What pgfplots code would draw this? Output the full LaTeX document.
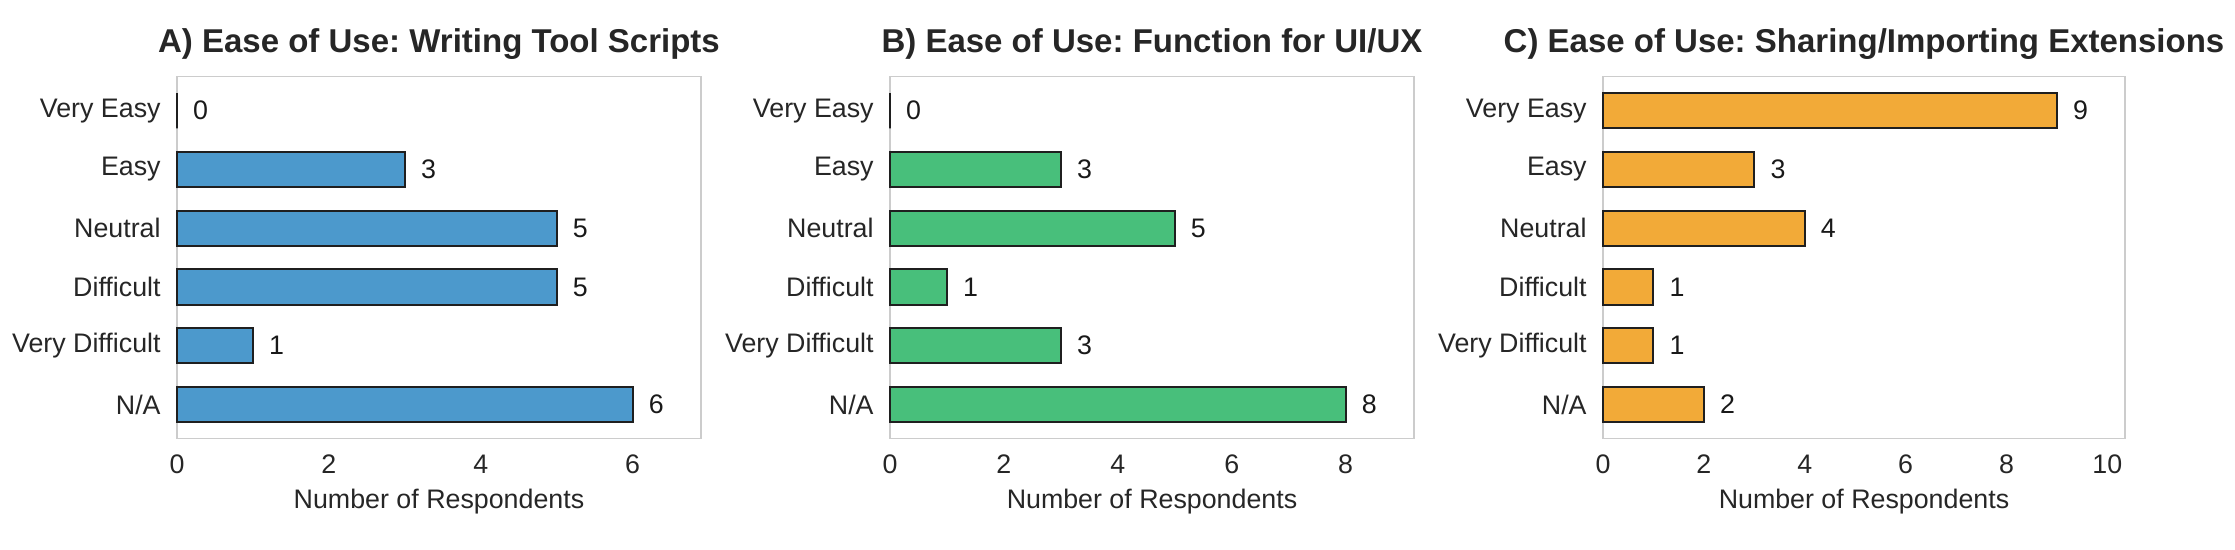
\documentclass[border=0pt]{standalone}
\usepackage{fontspec}
\setmainfont{Liberation Sans}
\usepackage{pgfplots}
\pgfplotsset{compat=1.18}
\frenchspacing
\definecolor{cA}{RGB}{76,153,204}
\definecolor{cB}{RGB}{72,191,123}
\definecolor{cC}{RGB}{242,170,56}
\definecolor{cFrame}{RGB}{204,204,204}
\definecolor{cText}{RGB}{38,38,38}
\newcommand{\lbl}{\fontsize{13.4}{15}\selectfont}

\pgfplotsset{
  easeaxis/.style={
    scale only axis, width=262pt, height=181pt,
    anchor=south west,
    xbar, bar width=0.6,
    y dir=reverse, ymin=-0.58, ymax=5.58,
    ytick={0,...,5},
    yticklabels={Very Easy,Easy,Neutral,Difficult,Very Difficult,N/A},
    xmin=0,
    major tick length=0pt,
    axis line style={draw=cFrame, line width=0.65pt},
    tick label style={font=\lbl, text=cText, inner sep=0pt},
    xticklabel style={yshift=-7.9pt},
    yticklabel style={xshift=-8pt},
    /pgf/number format/assume math mode=true,
    xlabel={Number of Respondents},
    xlabel style={at={(axis description cs:0.5,0)}, anchor=base, yshift=-35.2pt,
                  font=\lbl, text=cText, inner sep=0pt},
    title style={at={(axis description cs:0.5,1)}, anchor=base, yshift=5.8pt,
                 font=\bfseries\fontsize{16.5}{19}\selectfont, text=cText, inner sep=0pt},
    point meta=x,
    nodes near coords,
    every node near coord/.append style={font=\lbl, text=black!90, anchor=west,
                                         inner sep=0pt, xshift=7.6pt},
    clip=false,
  },
  easebar/.style={fill=#1, draw=black!88, line width=1pt},
}

\begin{document}
\begin{tikzpicture}
\path[use as bounding box] (0,0) rectangle (1117.5pt,275pt);

% A) writing tool scripts
\begin{axis}[easeaxis, at={(88.5pt,55.7pt)}, xmax=6.9, xtick={0,2,4,6},
  title={A) Ease of Use: Writing Tool Scripts}]
\addplot[easebar=cA] coordinates {(0,0) (3,1) (5,2) (5,3) (1,4) (6,5)};
\end{axis}

% B) function for UI/UX
\begin{axis}[easeaxis, at={(445pt,55.7pt)}, xmax=9.2, xtick={0,2,4,6,8},
  title={B) Ease of Use: Function for UI/UX}]
\addplot[easebar=cB] coordinates {(0,0) (3,1) (5,2) (1,3) (3,4) (8,5)};
\end{axis}

% C) sharing/importing extensions
\begin{axis}[easeaxis, at={(801.5pt,55.7pt)}, width=261pt, xmax=10.35, xtick={0,2,4,6,8,10},
  title={C) Ease of Use: Sharing/Importing Extensions}]
\addplot[easebar=cC] coordinates {(9,0) (3,1) (4,2) (1,3) (1,4) (2,5)};
\end{axis}
\end{tikzpicture}
\end{document}
